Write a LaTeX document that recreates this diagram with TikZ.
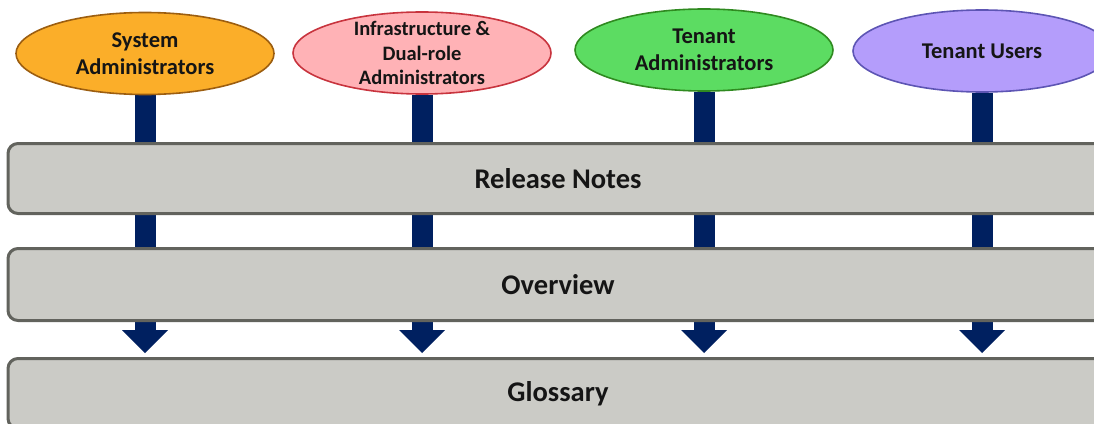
\documentclass[tikz,border=0pt]{standalone}
\usepackage{fontspec}
\setmainfont{Carlito}
\usepackage{xcolor}
\usepackage{tikz}
\usetikzlibrary{shapes.geometric,arrows.meta,backgrounds}

\definecolor{navy}{HTML}{002060}
\definecolor{txt}{HTML}{151515}
\definecolor{barfill}{HTML}{CBCBC6}
\definecolor{barline}{HTML}{62635D}
\definecolor{sysfill}{HTML}{FBAE29}
\definecolor{sysline}{HTML}{9C5E10}
\definecolor{infrafill}{HTML}{FFB2B6}
\definecolor{infraline}{HTML}{C8343E}
\definecolor{tadmfill}{HTML}{5CDC62}
\definecolor{tadmline}{HTML}{2F8A20}
\definecolor{tuserfill}{HTML}{B49DFB}
\definecolor{tuserline}{HTML}{5D55B4}

\begin{document}
\begin{tikzpicture}[x=1pt, y=-1pt,
    role/.style={ellipse, draw, line width=1.6pt, minimum width=258pt, minimum height=82pt, inner ysep=-15pt, align=center, text=txt, font=\bfseries\fontsize{22.5}{27}\selectfont},
    docbar/.style={rectangle, rounded corners=10pt, draw=barline, line width=3pt, fill=barfill, minimum width=1100pt, text=txt, font=\bfseries\fontsize{28.5}{32}\selectfont},
    flow/.style={draw=navy, line width=21pt, shorten >=4pt, -{Triangle[width=46pt, length=23pt, line width=0pt]}}]
    \useasboundingbox (0,0) rectangle (1094,423);

    % readers
    \node (sys) [role, fill=sysfill, draw=sysline] at (145,53.5) {System\\Administrators};
    \node (infra) [role, fill=infrafill, draw=infraline, font=\bfseries\fontsize{20.5}{24.5}\selectfont] at (422,53) {Infrastructure \&\\Dual-role\\Administrators};
    \node (tadm) [role, fill=tadmfill, draw=tadmline] at (704,50) {Tenant\\Administrators};
    \node (tuser) [role, fill=tuserfill, draw=tuserline] at (982,51) {Tenant Users};

    % documents
    \node (notes) [docbar, minimum height=70pt] at (558,178.5) {Release Notes};
    \node (over) [docbar, minimum height=72pt] at (558,284.5) {Overview};
    \node (gloss) [docbar, minimum height=70pt] at (558,393.5) {Glossary};

    \begin{scope}[on background layer]
        \draw [flow] (sys.south) -- (sys.south |- gloss.north);
        \draw [flow] (infra.south) -- (infra.south |- gloss.north);
        \draw [flow] (tadm.south) -- (tadm.south |- gloss.north);
        \draw [flow] (tuser.south) -- (tuser.south |- gloss.north);
    \end{scope}
\end{tikzpicture}
\end{document}
